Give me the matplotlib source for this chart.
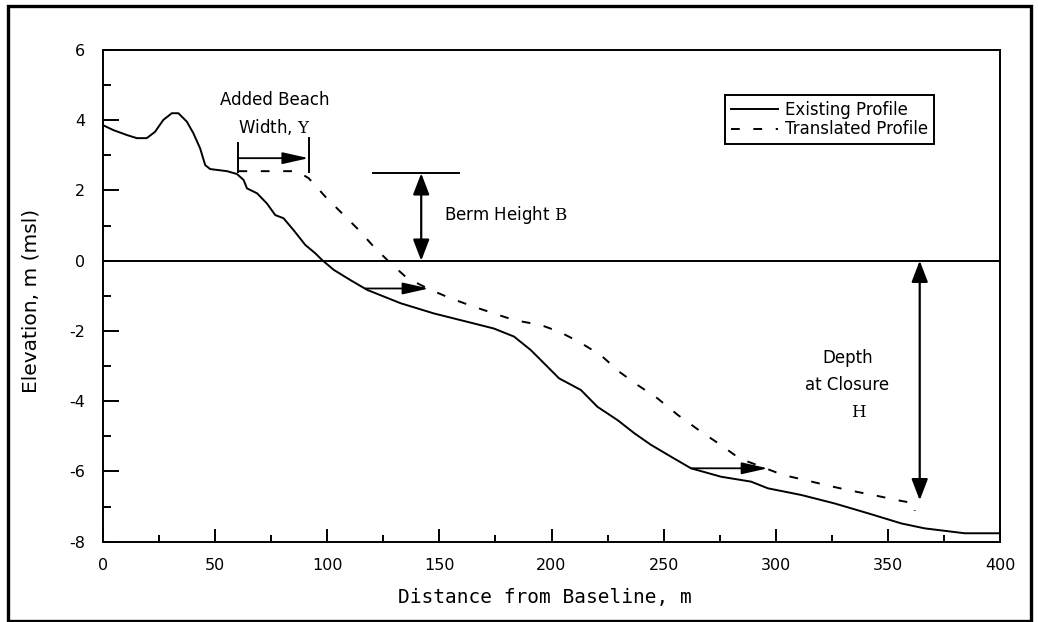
import matplotlib
matplotlib.use("Agg")
import matplotlib.pyplot as plt
from matplotlib.patches import Rectangle
from matplotlib.ticker import MultipleLocator

plt.rcParams['font.family'] = ['DejaVu Sans']
plt.rcParams['mathtext.fontset'] = 'dejavuserif'
plt.rcParams['axes.unicode_minus'] = False

# existing profile: distance from baseline (m), elevation (m msl)
exist_x = [0, 4.6, 10.6, 15.1, 19.5, 23.2, 26.9, 30.7, 33.6, 37.4, 40.3, 43.3,
           45.6, 47.8, 55.3, 59.7, 62.7, 64.2, 68.7, 73.1, 76.8, 80.5, 85.0,
           90.2, 94.7, 97.7, 102.9, 110.3, 117.8, 132.7, 147.5, 162.5, 174.3,
           183.3, 190.7, 193.7, 203.4, 213.1, 220.5, 229.5, 236.9, 244.3,
           253.3, 262.2, 275.6, 289.0, 296.5, 311.4, 326.2, 341.1, 356.0,
           366.4, 375.3, 384.3, 399.8]
exist_y = [3.86, 3.72, 3.58, 3.49, 3.49, 3.67, 4.01, 4.20, 4.20, 3.96, 3.63,
           3.20, 2.72, 2.61, 2.55, 2.47, 2.30, 2.06, 1.92, 1.63, 1.30, 1.21,
           0.87, 0.45, 0.21, 0.02, -0.26, -0.55, -0.83, -1.21, -1.50, -1.74,
           -1.93, -2.16, -2.54, -2.73, -3.35, -3.68, -4.16, -4.54, -4.91,
           -5.24, -5.58, -5.91, -6.15, -6.29, -6.48, -6.67, -6.91, -7.19,
           -7.48, -7.62, -7.69, -7.76, -7.76]

# translated profile
trans_x = [60.4, 86.5, 91.7, 99.2, 106.6, 114.0, 120.7, 128.2, 135.7, 146.1,
           155.0, 165.4, 174.3, 183.3, 195.2, 203.4, 212.3, 222.0, 230.2,
           238.4, 247.3, 256.3, 266.7, 275.6, 283.8, 293.0, 303.2, 312.8,
           322.5, 332.2, 345.6, 356.0, 361.5, 362.0]
trans_y = [2.55, 2.55, 2.35, 1.82, 1.35, 0.88, 0.40, -0.07, -0.50, -0.83,
           -1.07, -1.31, -1.50, -1.69, -1.83, -2.02, -2.31, -2.69, -3.16,
           -3.54, -3.92, -4.39, -4.87, -5.25, -5.63, -5.85, -6.10, -6.24,
           -6.39, -6.53, -6.70, -6.84, -6.90, -7.12]

# annotation anchors (data units)
width_x = [60.4, 91.7]
width_top = [3.34, 3.49]
width_bot = 2.54
width_arrow_y = 2.92
berm_y = 2.49
berm_line_x = [120.5, 158.7]
berm_arrow_x = 141.9
shift_arrows = [(117.0, 145.3, -0.79), (262.2, 296.5, -5.91)]
closure_x = 364.2
closure_y = -6.82

fig = plt.figure(figsize=(10.38, 6.22), dpi=100)
ax = fig.add_axes([103 / 1038, 1 - 541.7 / 622, 897 / 1038, 491.7 / 622])

ax.plot(exist_x, exist_y, color='black', lw=1.4, label='Existing Profile')
ax.plot(trans_x, trans_y, color='black', lw=1.4, linestyle=(0, (4.5, 7)),
        label='Translated Profile')
ax.axhline(0, color='black', lw=1.4)

# added beach width bracket
for xx, yt in zip(width_x, width_top):
    ax.plot([xx, xx], [width_bot, yt], color='black', lw=1.4)
hstyle = '-|>,head_length=0.8,head_width=0.18'
ax.annotate('', xy=(width_x[1], width_arrow_y), xytext=(width_x[0], width_arrow_y),
            arrowprops=dict(arrowstyle=hstyle, color='black', lw=1.3,
                            mutation_scale=20, shrinkA=0, shrinkB=0))
for x0, x1, yy in shift_arrows:
    ax.annotate('', xy=(x1, yy), xytext=(x0, yy),
                arrowprops=dict(arrowstyle=hstyle, color='black', lw=1.3,
                                mutation_scale=20, shrinkA=0, shrinkB=0))

# berm height
vstyle = '<|-|>,head_length=0.65,head_width=0.25'
ax.plot(berm_line_x, [berm_y, berm_y], color='black', lw=1.4)
ax.annotate('', xy=(berm_arrow_x, berm_y), xytext=(berm_arrow_x, 0),
            arrowprops=dict(arrowstyle=vstyle, color='black', lw=1.6,
                            mutation_scale=20, shrinkA=0, shrinkB=0))
# depth at closure
ax.annotate('', xy=(closure_x, 0), xytext=(closure_x, closure_y),
            arrowprops=dict(arrowstyle=vstyle, color='black', lw=1.6,
                            mutation_scale=20, shrinkA=0, shrinkB=0))

ax.text(76.5, 4.18, 'Added Beach\nWidth, $\\mathrm{Y}$', ha='center', va='center',
        fontsize=12, linespacing=1.55, multialignment='center')
ax.text(152.0, 1.30, 'Berm Height $\\mathrm{B}$', ha='left', va='center', fontsize=12)
ax.text(332.2, -2.78, 'Depth', ha='center', va='center', fontsize=12)
ax.text(332.0, -3.54, 'at Closure', ha='center', va='center', fontsize=12)
ax.text(337.0, -4.30, '$\\mathrm{H}$', ha='center', va='center', fontsize=12)

ax.set_xlim(0, 400)
ax.set_ylim(-8, 6)
ax.xaxis.set_major_locator(MultipleLocator(50))
ax.xaxis.set_minor_locator(MultipleLocator(25))
ax.yaxis.set_major_locator(MultipleLocator(2))
ax.yaxis.set_minor_locator(MultipleLocator(1))
ax.tick_params(axis='y', which='major', direction='in', length=11.5, width=1.4,
               pad=13, labelsize=11.5)
ax.tick_params(axis='y', which='minor', direction='in', length=5.8, width=1.4)
ax.tick_params(axis='x', which='major', direction='in', length=9.6, width=1.4,
               pad=12, labelsize=11.5)
ax.tick_params(axis='x', which='minor', direction='in', length=4.8, width=1.4)
for s in ax.spines.values():
    s.set_linewidth(1.4)

ax.set_xlabel('Distance from Baseline, m', family='DejaVu Sans Mono', fontsize=14)
ax.xaxis.set_label_coords(0.493, -0.095)
ax.set_ylabel('Elevation, m (msl)', fontsize=14.5)
ax.yaxis.set_label_coords(-0.07, 0.49)

leg = ax.legend(loc='upper right', bbox_to_anchor=(0.9264, 0.9085), borderaxespad=0,
                fontsize=12, handlelength=2.8, handletextpad=0.45, labelspacing=0.1,
                borderpad=0.35, fancybox=False, framealpha=1, edgecolor='black')
leg.get_frame().set_linewidth(1.4)

fig.patches.append(Rectangle((7.5 / 1038, 1.5 / 622), 1023 / 1038, 615 / 622,
                             transform=fig.transFigure, fill=False,
                             edgecolor='black', lw=2.4))

fig.savefig('out.png', dpi=100)
